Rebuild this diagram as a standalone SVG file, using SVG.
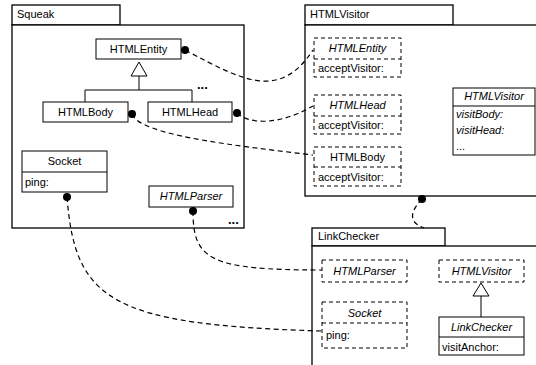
<svg xmlns="http://www.w3.org/2000/svg" width="536" height="365" viewBox="0 0 536 365">
<style>
text{font-family:"Liberation Sans",Arial,sans-serif;font-size:11px;fill:#000}
.c{text-anchor:middle}
.i{font-style:italic}
.b{font-weight:bold;font-size:13px}
.pk{fill:#fff;stroke:#000;stroke-width:1.3}
.cl{fill:#fff;stroke:#000;stroke-width:1}
.dl{fill:#fff;stroke:#000;stroke-width:1;stroke-dasharray:4,3}
.dv{fill:none;stroke:#000;stroke-width:1;stroke-dasharray:4,3}
.ln{fill:none;stroke:#000;stroke-width:1}
.cn{fill:none;stroke:#000;stroke-width:1.2;stroke-dasharray:5,3.5}
.dot{fill:#000}
</style>
<rect width="536" height="365" fill="#fff"/>
<g id="pkg-squeak">
<rect class="pk" x="12" y="5" width="108" height="20"/>
<rect class="pk" x="12" y="25" width="232" height="203"/>
<text x="17" y="18">Squeak</text>
<text class="b" x="197" y="89">...</text>
<text class="b" x="228" y="224">...</text>
</g>
<g id="pkg-htmlvisitor">
<rect class="pk" x="305" y="5" width="148" height="20"/>
<rect class="pk" x="305" y="25" width="240" height="171"/>
<text x="310" y="18">HTMLVisitor</text>
</g>
<g id="pkg-linkchecker">
<rect class="pk" x="312" y="228" width="133" height="18"/>
<rect class="pk" x="312" y="246" width="240" height="130"/>
<text x="318" y="240">LinkChecker</text>
</g>
<g id="sq-htmlentity">
<rect class="cl" x="96" y="39" width="85" height="20"/>
<text class="c" x="138.5" y="53">HTMLEntity</text>
</g>
<g id="sq-inherit">
<polygon class="cl" points="139,62 131,76 147,76"/>
<path class="ln" d="M139,76V90M85,102V90H192V102"/>
</g>
<g id="sq-htmlbody">
<rect class="cl" x="43" y="102" width="85" height="20"/>
<text class="c" x="85.5" y="116">HTMLBody</text>
</g>
<g id="sq-htmlhead">
<rect class="cl" x="148" y="102" width="84" height="20"/>
<text class="c" x="190" y="116">HTMLHead</text>
</g>
<g id="sq-socket">
<rect class="cl" x="22" y="151" width="85" height="41"/>
<line class="ln" x1="22" y1="172" x2="107" y2="172"/>
<text class="c" x="64.5" y="165">Socket</text>
<text x="25" y="186">ping:</text>
</g>
<g id="sq-htmlparser">
<rect class="cl" x="149" y="186" width="84" height="21"/>
<text class="c i" x="191" y="200">HTMLParser</text>
</g>
<g id="hv-htmlentity">
<rect class="dl" x="314" y="38" width="87" height="39"/>
<line class="dv" x1="314" y1="59" x2="401" y2="59"/>
<text class="c i" x="357.5" y="52">HTMLEntity</text>
<text x="318" y="72">acceptVisitor:</text>
</g>
<g id="hv-htmlhead">
<rect class="dl" x="314" y="95" width="87" height="39"/>
<line class="dv" x1="314" y1="116" x2="401" y2="116"/>
<text class="c i" x="357.5" y="109">HTMLHead</text>
<text x="318" y="129">acceptVisitor:</text>
</g>
<g id="hv-htmlbody">
<rect class="dl" x="314" y="147" width="87" height="39"/>
<line class="dv" x1="314" y1="167" x2="401" y2="167"/>
<text class="c" x="357.5" y="161">HTMLBody</text>
<text x="318" y="181">acceptVisitor:</text>
</g>
<g id="hv-htmlvisitor">
<rect class="cl" x="453" y="88" width="82" height="67"/>
<line class="ln" x1="453" y1="106" x2="535" y2="106"/>
<text class="c i" x="494" y="100">HTMLVisitor</text>
<text class="i" x="456" y="118">visitBody:</text>
<text class="i" x="456" y="134">visitHead:</text>
<text x="456" y="150">...</text>
</g>
<g id="lc-htmlparser">
<rect class="dl" x="322" y="260" width="85" height="22"/>
<text class="c i" x="364.5" y="275">HTMLParser</text>
</g>
<g id="lc-htmlvisitor">
<rect class="dl" x="439" y="260" width="85" height="22"/>
<text class="c i" x="481.5" y="275">HTMLVisitor</text>
</g>
<g id="lc-inherit">
<polygon class="cl" points="481,283 473,296 489,296"/>
<line class="ln" x1="481" y1="296" x2="481" y2="317"/>
</g>
<g id="lc-socket">
<rect class="dl" x="322" y="302" width="85" height="46"/>
<line class="dv" x1="322" y1="323" x2="407" y2="323"/>
<text class="c i" x="364.5" y="317">Socket</text>
<text x="326" y="339">ping:</text>
</g>
<g id="lc-linkchecker">
<rect class="cl" x="439" y="317" width="85" height="38"/>
<line class="ln" x1="439" y1="337" x2="524" y2="337"/>
<text class="c i" x="481.5" y="331">LinkChecker</text>
<text x="442" y="351">visitAnchor:</text>
</g>
<g id="connectors">
<path class="cn" d="M185,50C245,82 280,100 313,50"/>
<path class="cn" d="M237,113C250,125 280,125 313,106"/>
<path class="cn" d="M132,114C140,135 230,145 313,155"/>
<path class="cn" d="M422,199C410,212 408,222 424,228"/>
<path class="cn" d="M193,211C193,260 210,270 322,270"/>
<path class="cn" d="M67,197C75,300 110,325 322,331"/>
<circle class="dot" cx="185" cy="50" r="4"/>
<circle class="dot" cx="237" cy="113" r="4"/>
<circle class="dot" cx="132" cy="114" r="4"/>
<circle class="dot" cx="422" cy="199" r="4"/>
<circle class="dot" cx="193" cy="211" r="4"/>
<circle class="dot" cx="67" cy="197" r="4"/>
</g>
</svg>
